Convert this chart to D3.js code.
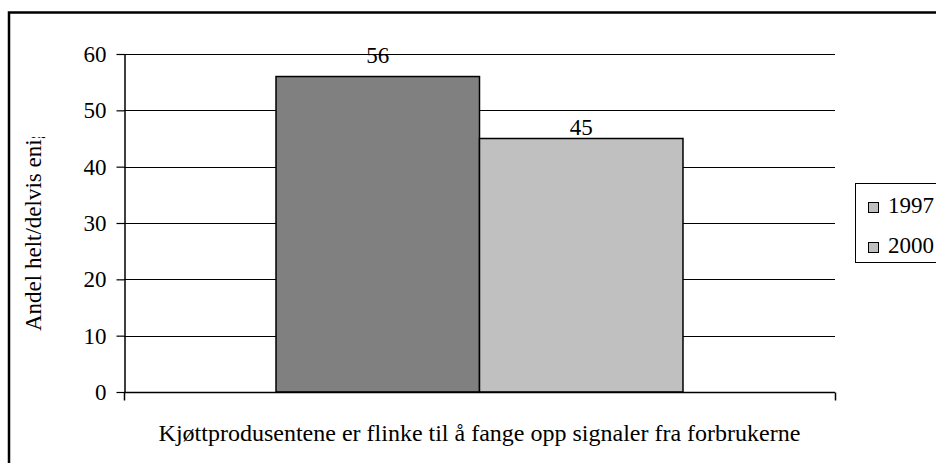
<!DOCTYPE html>
<html>
<head>
<meta charset="utf-8">
<script src="https://cdn.jsdelivr.net/npm/d3@7"></script>
<style>
  html, body { margin: 0; padding: 0; background: #fff; }
  svg { display: block; }
</style>
</head>
<body>
<div id="chart"></div>
<script>
  // Data
  const categories = ['Kjøttprodusentene er flinke til å fange opp signaler fra forbrukerne'];
  const seriesNames = ['1997', '2000'];
  const seriesValues = [56, 45];
  const yTicks = [0, 10, 20, 30, 40, 50, 60];
  const barColors = ['#808080', '#C0C0C0'];
  const legendColors = ['#C0C0C0', '#C0C0C0'];
  const yTitle = 'Andel helt/delvis enig';

  const FONT = "'Times New Roman', 'Liberation Serif', 'DejaVu Serif', serif";
  const FS = 23;
  const labelGap = [14, 4];  // Excel placed the two value labels at different heights
  const width = 936, height = 463;
  const margin = { left: 124, right: 101, top: 54, bottom: 71 };
  const plotW = width - margin.left - margin.right;
  const plotH = height - margin.top - margin.bottom;

  const svg = d3.select('#chart').append('svg')
    .attr('width', width)
    .attr('height', height)
    .attr('font-family', FONT);

  // outer chart frame (right/bottom edges fall outside the picture)
  svg.append('rect')
    .attr('x', 9).attr('y', 12.5)
    .attr('width', 1000).attr('height', 1000)
    .attr('fill', 'none')
    .attr('stroke', '#000')
    .attr('stroke-width', 2.5);

  const g = svg.append('g').attr('transform', `translate(${margin.left},${margin.top})`);

  const y = d3.scaleLinear().domain([0, 60]).range([plotH, 0]);
  const x0 = d3.scaleBand().domain(categories).range([0, plotW]).paddingInner(0).paddingOuter(0.3735);
  const x1 = d3.scaleBand().domain(seriesNames).range([0, x0.bandwidth()]);

  // gridlines
  g.append('g')
    .selectAll('line')
    .data(yTicks.filter(d => d > 0))
    .join('line')
    .attr('x1', 0).attr('x2', plotW)
    .attr('y1', d => Math.round(y(d)) + 0.5)
    .attr('y2', d => Math.round(y(d)) + 0.5)
    .attr('stroke', '#000')
    .attr('stroke-width', 1);

  // bars
  g.append('g')
    .selectAll('rect')
    .data(seriesValues)
    .join('rect')
    .attr('x', (d, i) => x0(categories[0]) + x1(seriesNames[i]))
    .attr('y', d => y(d))
    .attr('width', x1.bandwidth())
    .attr('height', d => plotH - y(d))
    .attr('fill', (d, i) => barColors[i])
    .attr('stroke', '#000')
    .attr('stroke-width', 1.5);

  // value labels
  g.append('g')
    .selectAll('text')
    .data(seriesValues)
    .join('text')
    .attr('x', (d, i) => x0(categories[0]) + x1(seriesNames[i]) + x1.bandwidth() / 2)
    .attr('y', (d, i) => y(d) - labelGap[i])
    .attr('text-anchor', 'middle')
    .attr('font-size', FS)
    .text(d => d);

  // y axis
  const yAxis = g.append('g')
    .attr('transform', 'translate(0.5,0)')
    .call(d3.axisLeft(y).tickValues(yTicks).tickSize(8).tickPadding(10).tickSizeOuter(0))
    .attr('font-family', FONT)
    .attr('font-size', FS);
  yAxis.select('.domain').attr('stroke', '#000').attr('stroke-width', 1.5);
  yAxis.selectAll('.tick line').attr('stroke', '#000').attr('stroke-width', 1.2);
  yAxis.selectAll('.tick text').attr('fill', '#000');

  // x axis: baseline with category boundary ticks
  const xAxis = g.append('g').attr('transform', `translate(0,${plotH + 0.5})`);
  xAxis.append('line')
    .attr('x1', 0).attr('x2', plotW)
    .attr('stroke', '#000').attr('stroke-width', 1.5);
  xAxis.selectAll('line.edge')
    .data([0, plotW])
    .join('line')
    .attr('class', 'edge')
    .attr('x1', d => d + 0.5).attr('x2', d => d + 0.5)
    .attr('y1', 0).attr('y2', 8)
    .attr('stroke', '#000').attr('stroke-width', 1.5);

  // category label
  g.append('text')
    .attr('x', x0(categories[0]) + x0.bandwidth() / 2)
    .attr('y', plotH + 49)
    .attr('text-anchor', 'middle')
    .attr('font-size', 24)
    .text(categories[0]);

  // y axis title, clipped at the top like the original
  svg.append('clipPath').attr('id', 'ytclip')
    .append('rect').attr('x', 0).attr('y', 137).attr('width', 100).attr('height', 300);
  svg.append('g')
    .attr('clip-path', 'url(#ytclip)')
    .append('text')
    .attr('transform', 'translate(41,331) rotate(-90)')
    .attr('text-anchor', 'start')
    .attr('font-size', FS)
    .text(yTitle);

  // legend
  const legend = svg.append('g').attr('transform', 'translate(855,183)');
  legend.append('rect')
    .attr('x', 0.5).attr('y', 0.5)
    .attr('width', 200).attr('height', 79)
    .attr('fill', '#fff')
    .attr('stroke', '#000')
    .attr('stroke-width', 1);
  const items = legend.selectAll('g.item')
    .data(seriesNames)
    .join('g')
    .attr('class', 'item')
    .attr('transform', (d, i) => `translate(0,${19 + i * 40})`);
  items.append('rect')
    .attr('x', 13.5).attr('y', 0.5)
    .attr('width', 10).attr('height', 10)
    .attr('fill', (d, i) => legendColors[i])
    .attr('stroke', '#000')
    .attr('stroke-width', 1);
  items.append('text')
    .attr('x', 33).attr('y', 11)
    .attr('font-size', FS)
    .text(d => d);
</script>
</body>
</html>
